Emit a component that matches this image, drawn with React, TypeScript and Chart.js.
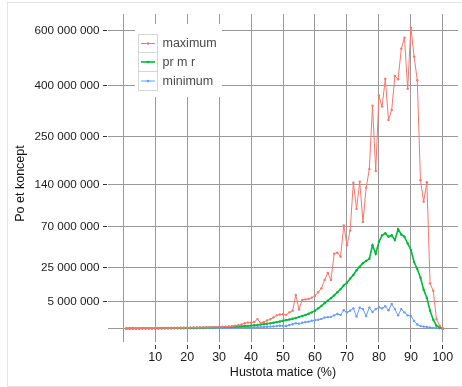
import React, { useEffect, useRef } from 'react';
import { Chart, LinearScale, registerables } from 'chart.js';

Chart.register(...registerables);

// Signed square-root transform used by the value axis.
const ssqrt = (v: number) => Math.sign(v) * Math.sqrt(Math.abs(v));

class SqrtScale extends LinearScale {
  static id = 'sqrt';
  static defaults = {};
  getPixelForValue(value: number) {
    const lo = ssqrt(this.min);
    const hi = ssqrt(this.max);
    return this.getPixelForDecimal((ssqrt(value) - lo) / (hi - lo));
  }
  getValueForPixel(pixel: number) {
    const lo = ssqrt(this.min);
    const hi = ssqrt(this.max);
    const s = lo + this.getDecimalForPixel(pixel) * (hi - lo);
    return Math.sign(s) * s * s;
  }
}
Chart.register(SqrtScale as any);

// Matrix density (%)
const densityPct = [
  1, 2, 3, 4, 5, 6, 7, 8, 9, 10,
  11, 12, 13, 14, 15, 16, 17, 18, 19, 20,
  21, 22, 23, 24, 25, 26, 27, 28, 29, 30,
  31, 32, 33, 34, 35, 36, 37, 38, 39, 40,
  41, 42, 43, 44, 45, 46, 47, 48, 49, 50,
  51, 52, 53, 54, 55, 56, 57, 58, 59, 60,
  61, 62, 63, 64, 65, 66, 67, 68, 69, 70,
  71, 72, 73, 74, 75, 76, 77, 78, 79, 80,
  81, 82, 83, 84, 85, 86, 87, 88, 89, 90,
  91, 92, 93, 94, 95, 96, 97, 98, 99, 100,
];

// Concept counts, in millions
const maxConcepts = [
  0.0005, 0.0006, 0.0008, 0.001, 0.0011, 0.0013, 0.0015, 0.0017, 0.002, 0.0022,
  0.0025, 0.0028, 0.0031, 0.0035, 0.0039, 0.0043, 0.0048, 0.0054, 0.006, 0.007,
  0.008, 0.009, 0.01, 0.011, 0.012, 0.013, 0.015, 0.017, 0.019, 0.021,
  0.025, 0.03, 0.035, 0.045, 0.06, 0.08, 0.12, 0.2, 0.25, 0.24,
  0.3, 0.62, 0.22, 0.3, 0.45, 0.6, 0.85, 1.2, 1.35, 1.4,
  1.3, 1.8, 2.2, 7.7, 2.5, 5.6, 5.8, 6.0, 6.5, 7.3,
  9.0, 11.0, 16.0, 21.0, 16.0, 38.0, 39.0, 35.0, 72.0, 47.0,
  65, 144, 97, 146, 77, 134, 172, 336, 168, 367,
  333, 422, 294, 323, 431, 420, 529, 572, 389, 612,
  500, 417, 149, 109, 145, 13.9, 9.7, 0.64, 0.06, 0,
];

const meanConcepts = [
  0.0005, 0.0006, 0.0007, 0.0008, 0.0009, 0.001, 0.0011, 0.0012, 0.0014, 0.0016,
  0.0018, 0.002, 0.0022, 0.0025, 0.0028, 0.0031, 0.0035, 0.0039, 0.0043, 0.0048,
  0.0054, 0.006, 0.0067, 0.0075, 0.0084, 0.0094, 0.0105, 0.012, 0.013, 0.015,
  0.017, 0.019, 0.022, 0.025, 0.029, 0.034, 0.04, 0.047, 0.055, 0.065,
  0.078, 0.095, 0.115, 0.14, 0.17, 0.2, 0.24, 0.29, 0.35, 0.42,
  0.5, 0.58, 0.67, 0.78, 0.92, 1.08, 1.27, 1.5, 1.8, 2.2,
  2.8, 3.5, 4.4, 5.3, 6.3, 7.5, 9.0, 10.6, 12.6, 14.3,
  17, 19.5, 23, 26, 29, 31, 33, 47, 38, 51,
  59, 61.5, 57, 59, 53, 67, 60, 57, 49, 42,
  30, 24, 17.5, 10.3, 6.4, 2.2, 0.55, 0.06, 0.01, 0,
];

const minConcepts = [
  0.0001, 0.0001, 0.0002, 0.0002, 0.0002, 0.0003, 0.0003, 0.0003, 0.0004, 0.0004,
  0.0005, 0.0005, 0.0006, 0.0006, 0.0007, 0.0008, 0.0009, 0.001, 0.0011, 0.0012,
  0.0013, 0.0015, 0.0017, 0.0019, 0.0021, 0.0023, 0.0026, 0.0029, 0.0032, 0.0036,
  0.004, 0.0045, 0.005, 0.0056, 0.0063, 0.007, 0.008, 0.009, 0.01, 0.011,
  0.013, 0.015, 0.018, 0.021, 0.025, 0.03, 0.036, 0.045, 0.06, 0.05,
  0.05, 0.09, 0.13, 0.2, 0.17, 0.24, 0.3, 0.33, 0.42, 0.5,
  0.55, 0.65, 0.85, 0.9, 0.95, 1.2, 1.45, 1.3, 2.3, 1.8,
  2.2, 2.8, 1.0, 3.0, 2.6, 1.1, 3.0, 1.9, 2.6, 3.1,
  2.8, 3.4, 2.3, 4.1, 2.6, 1.2, 2.6, 1.8, 1.2, 1.1,
  0.4, 0.12, 0.05, 0.03, 0.02, 0.01, 0.005, 0.002, 0.001, 0,
];

const MILLION = 1e6;

const seriesLabels = ['maximum', 'pr m r', 'minimum'];
const seriesColors = ['#F8766D', '#00BA38', '#619CFF'];
const seriesWidths = [1, 1.6, 1];

const xTicks = [0, 10, 20, 30, 40, 50, 60, 70, 80, 90, 100];
const yTicks = [0, 5000000, 25000000, 70000000, 140000000, 250000000, 400000000, 600000000];

const X_MIN = -4.76;
const X_MAX = 104.74;
const Y_MIN = -1.194e6;
const Y_MAX = 668.7e6;

const FONT = "'Liberation Sans', Arial, Helvetica, sans-serif";

const formatSpaced = (v: number) =>
  String(Math.round(v)).replace(/\B(?=(\d{3})+(?!\d))/g, ' ');

const framePlugin = {
  id: 'frame',
  beforeDraw(chart: any) {
    const { ctx } = chart;
    ctx.save();
    ctx.strokeStyle = '#e4e4e4';
    ctx.lineWidth = 1;
    ctx.strokeRect(7.5, 2.5, 480, 384);
    ctx.restore();
  },
};

const yTitlePlugin = {
  id: 'yTitle',
  afterDraw(chart: any) {
    const { ctx } = chart;
    ctx.save();
    ctx.translate(20.5, 183.5);
    ctx.rotate(-Math.PI / 2);
    ctx.font = `12.5px ${FONT}`;
    ctx.fillStyle = '#111';
    ctx.textAlign = 'center';
    ctx.textBaseline = 'middle';
    ctx.fillText('Po et koncept', 0, 0);
    ctx.restore();
  },
};

const legendPlugin = {
  id: 'boxLegend',
  beforeDatasetsDraw(chart: any) {
    const { ctx, chartArea } = chart;
    const bx = chartArea.left + 27;
    const by = chartArea.top + 10;
    ctx.save();
    ctx.fillStyle = '#ffffff';
    ctx.fillRect(bx, by, 87, 73);
    const keyX = bx + 3.5;
    const keyW = 19;
    const rowH = 18.67;
    const top0 = by + 9.5;
    chart.data.datasets.forEach((ds: any, i: number) => {
      const ry = Math.round(top0 + i * rowH) + 0.5;
      const rh = Math.round(top0 + (i + 1) * rowH) + 0.5 - ry;
      ctx.strokeStyle = '#d6d6d6';
      ctx.lineWidth = 1;
      ctx.strokeRect(keyX, ry, keyW, rh);
      const cy = ry + rh / 2;
      ctx.strokeStyle = ds.borderColor;
      ctx.lineWidth = ds.borderWidth;
      ctx.beginPath();
      ctx.moveTo(keyX + 2.5, cy);
      ctx.lineTo(keyX + keyW - 2.5, cy);
      ctx.stroke();
      ctx.fillStyle = ds.borderColor;
      ctx.beginPath();
      ctx.arc(keyX + keyW / 2, cy, 1.3, 0, Math.PI * 2);
      ctx.fill();
      ctx.font = `12.5px ${FONT}`;
      ctx.fillStyle = '#4a4a4a';
      ctx.textAlign = 'left';
      ctx.textBaseline = 'middle';
      ctx.fillText(ds.label, keyX + keyW + 5, cy + 0.5);
    });
    ctx.restore();
  },
};

export default function App() {
  const canvasRef = useRef<HTMLCanvasElement | null>(null);

  useEffect(() => {
    const canvas = canvasRef.current;
    if (!canvas) return;
    const seriesValues = [maxConcepts, meanConcepts, minConcepts];
    const chart = new Chart(canvas, {
      type: 'line',
      data: {
        datasets: seriesValues.map((vals, s) => ({
          label: seriesLabels[s],
          data: densityPct.map((d, i) => ({ x: d, y: vals[i] * MILLION })),
          borderColor: seriesColors[s],
          backgroundColor: seriesColors[s],
          borderWidth: seriesWidths[s],
          pointRadius: 1.2,
          pointBorderWidth: 0,
          pointBackgroundColor: seriesColors[s],
          tension: 0,
          fill: false,
        })),
      },
      options: {
        responsive: false,
        animation: false,
        devicePixelRatio: 1,
        layout: { padding: { left: 0, top: 14, right: 0, bottom: 0 } },
        plugins: {
          legend: { display: false },
          tooltip: { enabled: false },
        },
        scales: {
          x: {
            type: 'linear',
            min: X_MIN,
            max: X_MAX,
            bounds: 'data',
            afterBuildTicks: (scale: any) => {
              scale.ticks = xTicks.map((v) => ({ value: v }));
            },
            afterFit: (scale: any) => {
              scale.height = 45;
            },
            border: { display: false },
            grid: {
              color: '#999999',
              lineWidth: 1,
              drawTicks: true,
              tickLength: 7,
              tickBorderDash: [0, 3, 4, 20],
              tickColor: (ctx: any) => (ctx.tick && ctx.tick.value === 0 ? 'rgba(0,0,0,0)' : '#333333'),
              tickWidth: 1,
            },
            ticks: {
              autoSkip: false,
              maxRotation: 0,
              padding: 1,
              color: '#1a1a1a',
              font: { family: FONT, size: 12.5 },
              callback: (v: any) => (Number(v) === 0 ? '' : String(v)),
            },
            title: {
              display: true,
              text: 'Hustota matice (%)',
              color: '#111',
              font: { family: FONT, size: 12.5 },
              padding: { top: 0, bottom: 7 },
            },
          },
          y: {
            type: 'sqrt' as any,
            min: Y_MIN,
            max: Y_MAX,
            bounds: 'data',
            afterBuildTicks: (scale: any) => {
              scale.ticks = yTicks.map((v) => ({ value: v }));
            },
            afterFit: (scale: any) => {
              scale.width = 108;
            },
            border: { display: false },
            grid: {
              color: '#999999',
              lineWidth: 1,
              drawTicks: true,
              tickLength: 5,
              tickBorderDash: [4, 20],
              tickColor: (ctx: any) => (ctx.tick && ctx.tick.value === 0 ? 'rgba(0,0,0,0)' : '#333333'),
              tickWidth: 1,
            },
            ticks: {
              autoSkip: false,
              padding: 3.5,
              color: '#1a1a1a',
              font: { family: FONT, size: 11.7 },
              callback: (v: any) => (Number(v) === 0 ? '' : formatSpaced(Number(v))),
            },
          },
        },
      } as any,
      plugins: [framePlugin, legendPlugin, yTitlePlugin],
    });
    return () => chart.destroy();
  }, []);

  return (
    <div style={{ position: 'absolute', left: 0, top: 0, width: 462, height: 387, background: '#fff' }}>
      <canvas ref={canvasRef} width={462} height={387} style={{ display: 'block' }} />
    </div>
  );
}
